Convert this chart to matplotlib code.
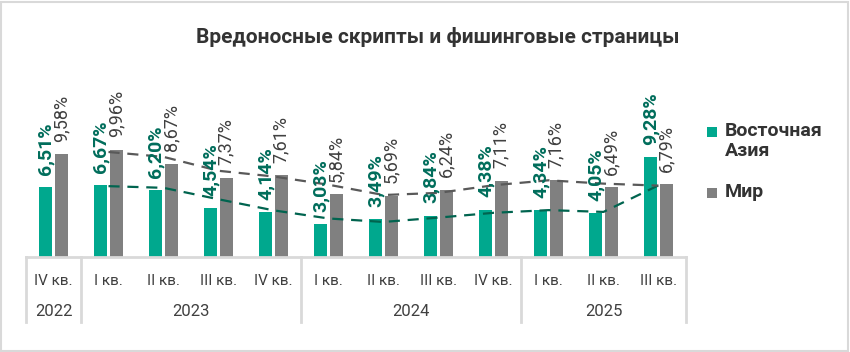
import numpy as np
import matplotlib.pyplot as plt
from matplotlib.patches import Rectangle
import matplotlib.transforms as mtransforms

# Data
quarters = ["IV кв.", "I кв.", "II кв.", "III кв.", "IV кв.",
            "I кв.", "II кв.", "III кв.", "IV кв.",
            "I кв.", "II кв.", "III кв."]
years = ["2022", "2023", "2024", "2025"]
year_sizes = [1, 4, 4, 3]
east_asia = [6.51, 6.67, 6.20, 4.54, 4.14, 3.03, 3.49, 3.84, 4.38, 4.34, 4.05, 9.28]
world = [9.58, 9.96, 8.67, 7.37, 7.61, 5.84, 5.69, 6.24, 7.11, 7.16, 6.49, 6.79]

title = "Вредоносные скрипты и фишинговые страницы"
legend_labels = ["Восточная\nАзия", "Мир"]

# Colours
GREEN = "#00A88E"
GREEN_DARK = "#006D5B"
GRAY = "#808080"
GRAY_DARK = "#404040"
LINE_GRAY = "#D9D9D9"

plt.rcParams['font.family'] = ['Roboto', 'DejaVu Sans']

W, H = 850, 352
fig = plt.figure(figsize=(W / 100, H / 100), dpi=100)


def px(x, y):
    # pixel (from top-left) to figure fraction
    return x / W, 1 - y / H


# Border round the whole chart
fig.patches.append(Rectangle((1 / W, 1 / H), (W - 3) / W, (H - 3) / H, transform=fig.transFigure,
                             fill=False, edgecolor=LINE_GRAY, linewidth=1.5))

# Plot area
left, base, right, top = 26, 257, 686, 128
ax = fig.add_axes([left / W, (H - base) / H, (right - left) / W, (base - top) / H])
ax.set_xlim(-0.5, len(quarters) - 0.5)
ax.set_ylim(0, 12)
ax.axis("off")

x = np.arange(len(quarters))
width = 0.24
off = 0.14
ax.bar(x - off, east_asia, width, color=GREEN, zorder=2)
ax.bar(x + off, world, width, color=GRAY, zorder=2)

# Value labels
for xi, v in zip(x, east_asia):
    ax.annotate(f"{v:.2f}%".replace(".", ","), (xi - off, v), xytext=(0, 9), textcoords="offset points",
                rotation=90, ha="center", va="bottom", fontsize=14, fontweight="bold",
                color=GREEN_DARK, zorder=4)
for xi, v in zip(x, world):
    ax.annotate(f"{v:.2f}%".replace(".", ","), (xi + off, v), xytext=(0, 9), textcoords="offset points",
                rotation=90, ha="center", va="bottom", fontsize=13, color=GRAY_DARK, zorder=4)

# Two-period moving average trend lines
ea = np.array(east_asia)
wo = np.array(world)
ax.plot(x[1:], (ea[1:] + ea[:-1]) / 2, color="#00644F", lw=1.6, ls=(0, (5, 3.5)), zorder=3)
ax.plot(x[1:], (wo[1:] + wo[:-1]) / 2, color="#595959", lw=1.6, ls=(0, (5, 3.5)), zorder=3)

# Category axis with grouped year labels
trans = mtransforms.blended_transform_factory(ax.transData, ax.transAxes)
ax.plot([-0.5, len(quarters) - 0.5], [0, 0], transform=trans, color=LINE_GRAY, lw=2, clip_on=False, zorder=5)
depth = -(322 - base) / (base - top)
q_y = -(281 - base) / (base - top)
y_y = -(311 - base) / (base - top)
for xi, q in zip(x, quarters):
    ax.text(xi, q_y, q, transform=trans, ha="center", va="center", fontsize=11, color=GRAY_DARK)
start = -0.5
edges = [start]
for year, n in zip(years, year_sizes):
    ax.text(start + n / 2, y_y, year, transform=trans, ha="center", va="center", fontsize=12, color=GRAY_DARK)
    start += n
    edges.append(start)
for e in edges:
    ax.plot([e, e], [0, depth], transform=trans, color=LINE_GRAY, lw=2, clip_on=False)

# Title
tx, ty = px(438, 37)
fig.text(tx, ty, title, ha="center", va="center", fontsize=15, fontweight="bold", color="#333333")

# Legend
for (lx, ly), color, label in zip([(707, 127), (707, 188)], [GREEN, GRAY], legend_labels):
    rx, ry = px(lx, ly + 10)
    fig.patches.append(Rectangle((rx, ry), 10 / W, 10 / H, transform=fig.transFigure,
                                 facecolor=color, edgecolor="none"))
    fx, fy = px(725, ly - 5)
    fig.text(fx, fy, label, ha="left", va="top", fontsize=14, fontweight="bold",
             color="#333333", linespacing=1.15)

fig.savefig("out.png", dpi=100)
